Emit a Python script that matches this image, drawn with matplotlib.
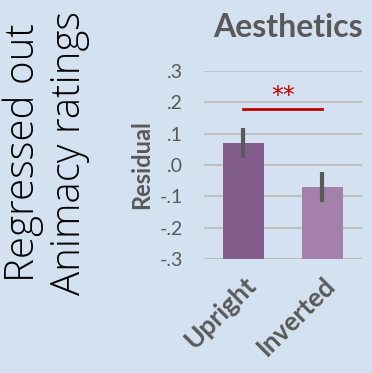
import matplotlib.pyplot as plt
from matplotlib.transforms import ScaledTranslation

# Residual aesthetics ratings after regressing out animacy
conditions = ['Upright', 'Inverted']
residuals = [0.07, -0.07]
errors = [0.048, 0.048]
yticks = [-0.3, -0.2, -0.1, 0.0, 0.1, 0.2, 0.3]
ytick_labels = ['-.3', '-.2', '-.1', '.0', '.1', '.2', '.3']
sig_level = 0.178
sig_text = '**'

bg = '#d4e1f0'
grey = '#595959'
bar_colors = ['#835e8d', '#a480ab']

plt.rcParams['font.family'] = ['Lato', 'DejaVu Sans']

fig = plt.figure(figsize=(3.72, 3.73), dpi=100, facecolor=bg)
ax = fig.add_axes([0.548, 0.306, 0.425, 0.504], facecolor=bg)

x = range(len(conditions))
ax.bar(x, [r - (-0.3) for r in residuals], bottom=-0.3, width=0.52,
       color=bar_colors, zorder=2)
ax.errorbar(x, residuals, yerr=errors, fmt='none', ecolor=grey,
            elinewidth=3, capsize=0, zorder=3)

# Significance marker between the two conditions
ax.plot([0, 1], [sig_level, sig_level], color='#c00000', lw=2, zorder=3)
ax.text(0.5, sig_level + 0.004, sig_text, color='#c00000', fontsize=17,
        ha='center', va='bottom', family='DejaVu Sans')

ax.set_xlim(-0.5, 1.5)
ax.set_ylim(-0.3, 0.3)
ax.set_yticks(yticks)
ax.set_yticklabels(ytick_labels, color=grey, fontsize=14)
ax.set_xticks(list(x))
ax.set_xticklabels(conditions, rotation=45, ha='right', va='top',
                   rotation_mode='anchor', color=grey, fontsize=19,
                   fontweight='bold')
shift = ScaledTranslation(-6 / 72, 0, fig.dpi_scale_trans)
for lbl in ax.get_xticklabels():
    lbl.set_transform(lbl.get_transform() + shift)
ax.tick_params(length=0)
ax.tick_params(axis='y', pad=15)
ax.tick_params(axis='x', pad=10)
ax.grid(axis='y', color='#c0c0c0', lw=1.5, zorder=1)
for s in ax.spines.values():
    s.set_visible(False)

ax.set_ylabel('Residual', color=grey, fontsize=17, fontweight='bold',
              labelpad=5)
fig.text(0.775, 0.925, 'Aesthetics', color=grey, fontsize=23,
         fontweight='bold', ha='center', va='center')
fig.text(0.125, 0.59, 'Regressed out\nAnimacy ratings', color='black',
         fontsize=29, rotation=90, ha='center', va='center',
         linespacing=1.15, family=['Open Sans', 'DejaVu Sans'],
         fontweight='light')

fig.savefig('out.png', dpi=100, facecolor=bg)
